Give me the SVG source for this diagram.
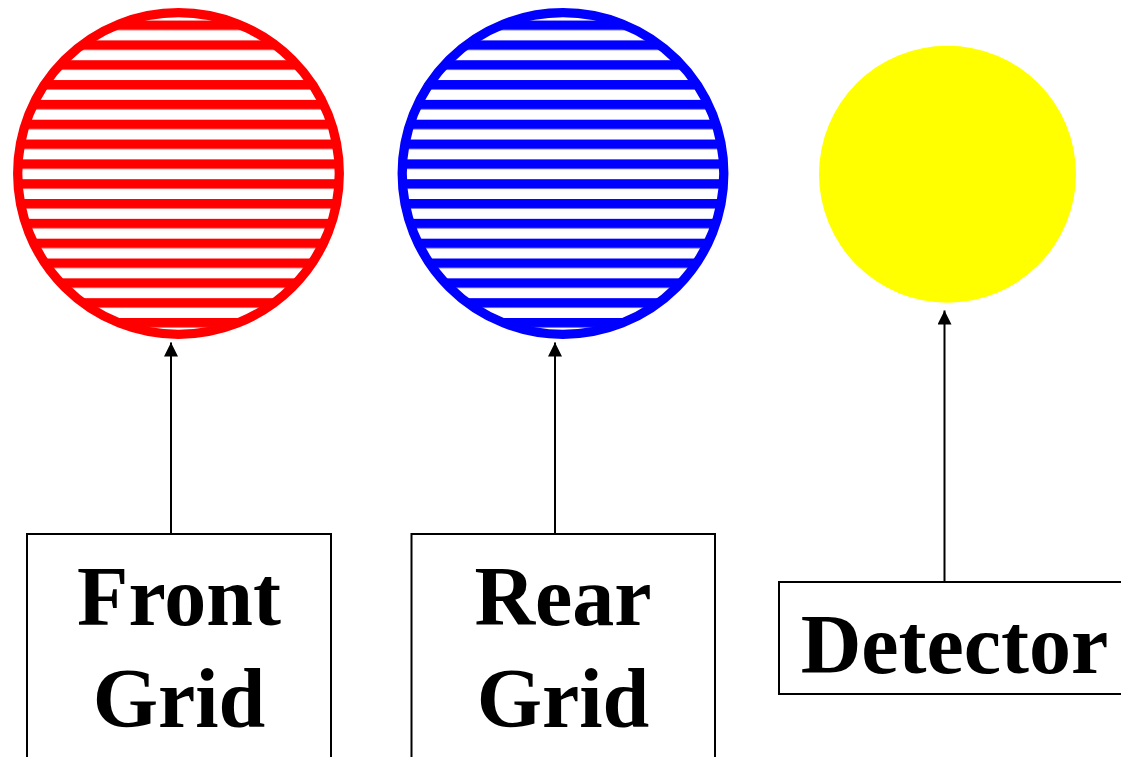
<svg xmlns="http://www.w3.org/2000/svg" width="1121" height="757" viewBox="0 0 1121 757">
  <style>
    .box { fill: #ffffff; stroke: #000000; stroke-width: 2; }
    .label { font-family: "Liberation Serif", "Times New Roman", serif; font-weight: bold; font-size: 84px; fill: #000000; text-anchor: middle; }
    .link { stroke: #000000; stroke-width: 2; fill: none; marker-end: url(#arrow); }
  </style>
  <defs>
    <!-- horizontal grid wires -->
    <pattern id="wiresRed" patternUnits="userSpaceOnUse" x="0" y="20.55" width="40" height="19.83">
      <rect x="0" y="0" width="40" height="9.5" fill="#ff0000"/>
    </pattern>
    <pattern id="wiresBlue" patternUnits="userSpaceOnUse" x="0" y="20.55" width="40" height="19.83">
      <rect x="0" y="0" width="40" height="9.5" fill="#0000ff"/>
    </pattern>
    <marker id="arrow" viewBox="0 0 16 14" refX="14" refY="7" markerWidth="16" markerHeight="14" markerUnits="userSpaceOnUse" orient="auto">
      <path d="M0,0 L14,7 L0,14 Z" fill="#000000"/>
    </marker>
  </defs>

  <g id="front-grid-disc">
    <circle cx="178.5" cy="173.5" r="160.8" fill="url(#wiresRed)" stroke="#ff0000" stroke-width="9.3"/>
  </g>
  <g id="rear-grid-disc">
    <circle cx="563" cy="173.5" r="160.8" fill="url(#wiresBlue)" stroke="#0000ff" stroke-width="9.3"/>
  </g>
  <g id="detector-disc">
    <circle cx="947.5" cy="174.2" r="128.5" fill="#ffff00"/>
  </g>

  <g id="connectors">
    <line class="link" x1="171" y1="534" x2="171" y2="342.5"/>
    <line class="link" x1="555" y1="534" x2="555" y2="342.5"/>
    <line class="link" x1="944.5" y1="582" x2="944.5" y2="310.5"/>
  </g>

  <g id="front-grid-label">
    <rect class="box" x="27" y="534" width="304" height="240"/>
    <text class="label" x="179" y="625">Front</text>
    <text class="label" x="179" y="727">Grid</text>
  </g>
  <g id="rear-grid-label">
    <rect class="box" x="411.5" y="534" width="303.5" height="240"/>
    <text class="label" x="563" y="625">Rear</text>
    <text class="label" x="563" y="727">Grid</text>
  </g>
  <g id="detector-label">
    <rect class="box" x="779" y="582" width="352" height="112"/>
    <text class="label" x="954.5" y="673">Detector</text>
  </g>
</svg>
